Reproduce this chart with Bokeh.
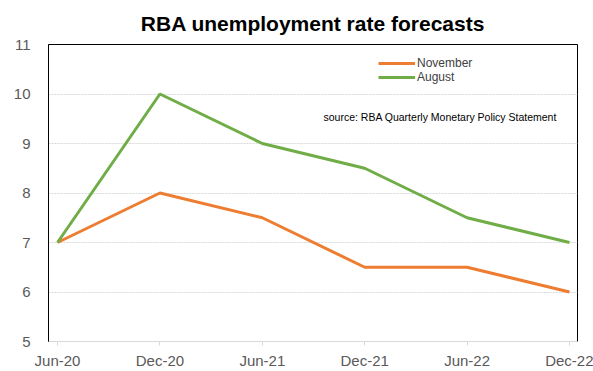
from bokeh.plotting import figure
from bokeh.models import Range1d, FixedTicker, Label, Legend, LegendItem, ColumnDataSource
from bokeh.embed import file_html
from bokeh.resources import INLINE

categories = ["Jun-20", "Dec-20", "Jun-21", "Dec-21", "Jun-22", "Dec-22"]
november = [7, 8, 7.5, 6.5, 6.5, 6]
august = [7, 10, 9, 8.5, 7.5, 7]
y_ticks = [5, 6, 7, 8, 9, 10, 11]

xs = list(range(len(categories)))
src = ColumnDataSource(dict(x=xs, nov=november, aug=august))

p = figure(width=593, height=371, output_backend="svg", toolbar_location=None,
           x_range=Range1d(-0.088, 5.078), y_range=Range1d(5, 11),
           min_border_left=48, min_border_right=16, min_border_bottom=29, min_border_top=4)
p.title.text = "RBA unemployment rate forecasts"
p.title.align = "center"
p.title.text_font = "Liberation Sans"
p.title.text_font_size = "21px"
p.title.text_font_style = "bold"
p.title.text_color = "#000000"
p.title.standoff = 19
p.title.offset = 5

p.outline_line_color = "#000000"
p.outline_line_width = 1

p.xgrid.grid_line_color = None
p.ygrid.grid_line_color = "#d9d9d9"
p.ygrid.grid_line_dash = "2 1"

p.yaxis.ticker = FixedTicker(ticks=y_ticks)
p.xaxis.ticker = FixedTicker(ticks=xs)
p.xaxis.major_label_overrides = {i: c for i, c in enumerate(categories)}
for ax in (p.xaxis, p.yaxis):
    ax.major_label_text_font = "Liberation Sans"
    ax.major_label_text_font_size = "15px"
    ax.major_label_text_color = "#595959"
    ax.minor_tick_line_color = None
p.yaxis.axis_line_color = "#000000"
p.yaxis.major_tick_line_color = None
p.yaxis.major_label_standoff = 12
p.xaxis.axis_line_color = "#d9d9d9"
p.xaxis.major_tick_line_color = "#d9d9d9"
p.xaxis.major_tick_in = 0
p.xaxis.major_tick_out = 4
p.xaxis.major_label_standoff = 6

r1 = p.line("x", "nov", source=src, line_color="#ED7D31", line_width=3)
r2 = p.line("x", "aug", source=src, line_color="#70AD47", line_width=3)

legend = Legend(items=[LegendItem(label="November", renderers=[r1]),
                       LegendItem(label="August", renderers=[r2])],
                location=(330, 257), background_fill_alpha=0, border_line_color=None,
                label_text_font="Liberation Sans", label_text_font_size="12px",
                label_text_color="#404040", glyph_width=37, glyph_height=12,
                label_standoff=2, spacing=0, padding=0, label_height=12, margin=0)
p.add_layout(legend, "center")

p.add_layout(Label(x=275, y=225, x_units="screen", y_units="screen",
                   text="source:  RBA Quarterly Monetary Policy Statement",
                   text_baseline="middle",
                   text_font="Liberation Sans", text_font_size="10.5px", text_color="#000000"))

open("out.html", "w").write(file_html(p, INLINE))
